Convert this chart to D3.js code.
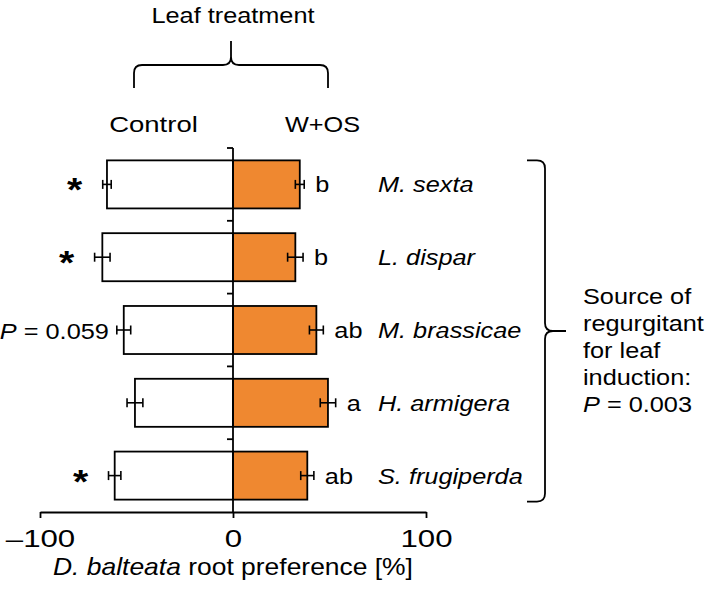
<!DOCTYPE html>
<html>
<head>
<meta charset="utf-8">
<script src="https://cdn.jsdelivr.net/npm/d3@7"></script>
<style>
  html, body { margin: 0; padding: 0; background: #fff; }
  svg { display: block; }
  text { font-family: "Liberation Sans", Arial, sans-serif; fill: #000; }
</style>
</head>
<body>
<svg id="chart" width="709" height="606"></svg>
<script>
// ---- data ----
const species = ["M. sexta", "L. dispar", "M. brassicae", "H. armigera", "S. frugiperda"];
const controlMean = [-65.3, -67.7, -56.6, -50.8, -61.3];
const controlErr = [2.2, 4.0, 3.6, 4.1, 3.2];
const wosMean = [34.6, 32.3, 43.2, 49.2, 38.5];
const wosErr = [2.3, 4.0, 3.6, 4.0, 3.4];
const wosLetters = ["b", "b", "ab", "a", "ab"];
const controlSig = ["*", "*", "P = 0.059", "", "*"];
const xTicks = [-100, 0, 100];
const groupLabels = ["Control", "W+OS"];
const braceTitle = "Leaf treatment";
const sideNote = ["Source of", "regurgitant", "for leaf", "induction:", "P = 0.003"];

// ---- layout ----
const SX = 1.15;           // horizontal stretch of the reference lettering
const FS = 22;
const SW = 1.8;
const ORANGE = "#EF8830";
const svg = d3.select("#chart");

const x = d3.scaleLinear().domain([-100, 100]).range([40, 426]);
const y = d3.scaleBand().domain(species).range([148, 512]).paddingInner(0.34).paddingOuter(0.17);
const axisY = 512;
const bw = y.bandwidth();
const cy = d => y(d) + bw / 2;

function label(g, px, py, anchor, size, sx) {
  return g.append("text")
    .attr("transform", `translate(${px},${py}) scale(${sx || SX},1)`)
    .attr("text-anchor", anchor)
    .attr("font-size", size || FS);
}

const rows = species.map((s, i) => ({
  s, cm: controlMean[i], ce: controlErr[i], wm: wosMean[i], we: wosErr[i],
  letter: wosLetters[i], sig: controlSig[i]
}));

// bars
const g = svg.append("g");
g.selectAll("rect.ctrl").data(rows).join("rect")
  .attr("class", "ctrl")
  .attr("x", d => x(d.cm)).attr("width", d => x(0) - x(d.cm))
  .attr("y", d => y(d.s)).attr("height", bw)
  .attr("fill", "#fff").attr("stroke", "#000").attr("stroke-width", SW);
g.selectAll("rect.wos").data(rows).join("rect")
  .attr("class", "wos")
  .attr("x", x(0)).attr("width", d => x(d.wm) - x(0))
  .attr("y", d => y(d.s)).attr("height", bw)
  .attr("fill", ORANGE).attr("stroke", "#000").attr("stroke-width", SW);

// error bars
function errBars(cls, mean, err) {
  const eg = g.selectAll("g." + cls).data(rows).join("g").attr("class", cls)
    .attr("stroke", "#000").attr("stroke-width", 1.6);
  eg.append("line").attr("x1", d => x(mean(d) - err(d))).attr("x2", d => x(mean(d) + err(d)))
    .attr("y1", d => cy(d.s)).attr("y2", d => cy(d.s));
  eg.append("line").attr("x1", d => x(mean(d) - err(d))).attr("x2", d => x(mean(d) - err(d)))
    .attr("y1", d => cy(d.s) - 4.5).attr("y2", d => cy(d.s) + 4.5);
  eg.append("line").attr("x1", d => x(mean(d) + err(d))).attr("x2", d => x(mean(d) + err(d)))
    .attr("y1", d => cy(d.s) - 4.5).attr("y2", d => cy(d.s) + 4.5);
}
errBars("eb-c", d => d.cm, d => d.ce);
errBars("eb-w", d => d.wm, d => d.we);

// zero spine with ticks between bars
const step = y.step();
g.append("line").attr("x1", x(0)).attr("x2", x(0)).attr("y1", y.range()[0]).attr("y2", axisY)
  .attr("stroke", "#000").attr("stroke-width", SW);
g.selectAll("line.ytick").data(species).join("line").attr("class", "ytick")
  .attr("x1", x(0) - 6).attr("x2", x(0))
  .attr("y1", d => y(d) - step * y.paddingInner() / 2)
  .attr("y2", d => y(d) - step * y.paddingInner() / 2)
  .attr("stroke", "#000").attr("stroke-width", SW);

// x axis
const xa = svg.append("g").attr("transform", `translate(0,${axisY})`)
  .call(d3.axisBottom(x).tickValues(xTicks).tickSize(6).tickSizeOuter(0).tickPadding(12)
    .tickFormat(d => d < 0 ? "\u2013" + Math.abs(d) : d));
xa.select(".domain").attr("stroke-width", SW);
xa.selectAll(".tick line").attr("stroke-width", SW);
xa.selectAll(".tick text").attr("font-size", 24)
  .attr("font-family", "Liberation Sans, Arial, sans-serif")
  .attr("transform", `scale(1.3,1)`);

// axis title
const t = label(svg, x(0), 575, "middle", 23);
t.append("tspan").attr("font-style", "italic").text("D. balteata");
t.append("tspan").text(" root preference [%]");

// species labels
rows.forEach(d => {
  label(svg, 378, cy(d.s) + 8, "start").attr("font-style", "italic").text(d.s);
  label(svg, x(d.wm + d.we) + 11, cy(d.s) + 8, "start").text(d.letter);
  if (d.sig === "*") {
    label(svg, x(d.cm - d.ce) - 28, cy(d.s) + 17, "middle", 34).attr("font-weight", "bold").text("*");
  } else if (d.sig) {
    const parts = d.sig.split(" = ");
    const tt = label(svg, x(d.cm - d.ce) - 8, cy(d.s) + 9, "end");
    tt.append("tspan").attr("font-style", "italic").text(parts[0]);
    tt.append("tspan").text(" = " + parts[1]);
  }
});

// top brace and labels
label(svg, x(0), 23, "middle").text(braceTitle);
label(svg, 153.5, 132, "middle", 22, 1.25).text(groupLabels[0]);
label(svg, 322.5, 132, "middle").text(groupLabels[1]);
const bx0 = 134, bx1 = 328, bxm = x(0) - 2, byS = 65, byE = 88, byT = 41, r = 8;
svg.append("path")
  .attr("d", `M${bx0},${byE} L${bx0},${byS + r} Q${bx0},${byS} ${bx0 + r},${byS} L${bxm - r},${byS} Q${bxm},${byS} ${bxm},${byS - r} L${bxm},${byT} L${bxm},${byS - r} Q${bxm},${byS} ${bxm + r},${byS} L${bx1 - r},${byS} Q${bx1},${byS} ${bx1},${byS + r} L${bx1},${byE}`)
  .attr("fill", "none").attr("stroke", "#000").attr("stroke-width", SW);

// right brace
const ry0 = y(species[0]), ry1 = y(species[species.length - 1]) + bw + 2;
const rxE = 527, rxS = 545, rxT = 566, rym = (ry0 + ry1) / 2;
svg.append("path")
  .attr("d", `M${rxE},${ry0} L${rxS - r},${ry0} Q${rxS},${ry0} ${rxS},${ry0 + r} L${rxS},${rym - r} Q${rxS},${rym} ${rxS + r},${rym} L${rxT},${rym} L${rxS + r},${rym} Q${rxS},${rym} ${rxS},${rym + r} L${rxS},${ry1 - r} Q${rxS},${ry1} ${rxS - r},${ry1} L${rxE},${ry1}`)
  .attr("fill", "none").attr("stroke", "#000").attr("stroke-width", SW);

// side note
sideNote.forEach((line, i) => {
  const tt = label(svg, 583, 304 + i * 27, "start");
  if (line.startsWith("P = ")) {
    tt.append("tspan").attr("font-style", "italic").text("P");
    tt.append("tspan").text(line.slice(1));
  } else tt.text(line);
});
</script>
</body>
</html>
